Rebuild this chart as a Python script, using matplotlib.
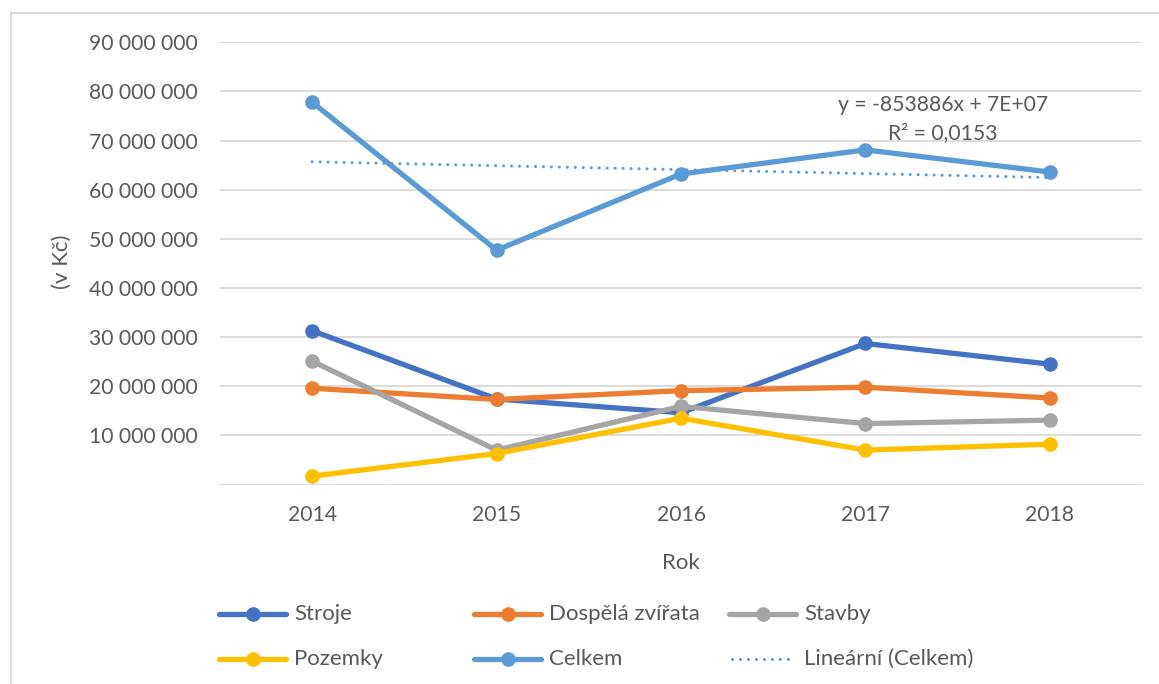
import matplotlib
matplotlib.use("Agg")
import matplotlib.pyplot as plt
from matplotlib.lines import Line2D
import numpy as np

plt.rcParams['font.family'] = ['Lato', 'DejaVu Sans']

years = ["2014", "2015", "2016", "2017", "2018"]
stroje = [31.3e6, 17.4e6, 14.6e6, 28.7e6, 24.5e6]
dospela = [19.6e6, 17.3e6, 19.1e6, 19.8e6, 17.6e6]
stavby = [25.1e6, 7.0e6, 15.9e6, 12.4e6, 13.1e6]
pozemky = [1.7e6, 6.3e6, 13.5e6, 7.0e6, 8.2e6]
celkem = [77.8e6, 47.7e6, 63.2e6, 68.1e6, 63.6e6]
series_names = ["Stroje", "Dospělá zvířata", "Stavby", "Pozemky", "Celkem"]
trend_name = "Lineární (Celkem)"
trend_eq = "y = -853886x + 7E+07"
trend_r2 = "R² = 0,0153"
y_ticks = [0, 10e6, 20e6, 30e6, 40e6, 50e6, 60e6, 70e6, 80e6, 90e6]
x_title = "Rok"
y_title = "(v Kč)"

colors = ["#4472C4", "#ED7D31", "#A5A5A5", "#FFC000", "#5B9BD5"]
text_color = "#595959"
grid_color = "#D9D9D9"

W, H = 1159, 684
fig = plt.figure(figsize=(W / 100, H / 100), dpi=100)

def fx(px):
    return px / W

def fy(py):
    return 1 - py / H

ax = fig.add_axes([fx(220), fy(484.5), fx(1142) - fx(220), fy(42.3) - fy(484.5)])

x = np.arange(len(years))
data = [stroje, dospela, stavby, pozemky, celkem]
lw = 3.8
ms = 9.5
dot_style = (0, (0.01, 2.6))
for vals, c in zip(data, colors):
    ax.plot(x, vals, color=c, lw=lw, marker='o', ms=ms, solid_capstyle='round',
            solid_joinstyle='round', zorder=3)

# linear trend of Celkem (Excel x = 1..n)
xi = np.arange(1, len(celkem) + 1)
k, q = np.polyfit(xi, celkem, 1)
ax.plot(x, k * xi + q, color=colors[4], lw=2.2, linestyle=dot_style,
        dash_capstyle='round', zorder=2)

ax.set_xlim(-0.5, len(years) - 0.5)
ax.set_ylim(0, 90e6)
ax.set_xticks(x)
ax.set_xticklabels(years)
ax.set_yticks(y_ticks)
ax.set_yticklabels(["" if v == 0 else f"{v:,.0f}".replace(",", " ") for v in y_ticks])
ax.tick_params(axis='both', length=0, labelsize=15.2, labelcolor=text_color)
ax.tick_params(axis='y', pad=16)
ax.tick_params(axis='x', pad=15)
ax.grid(axis='y', color=grid_color, lw=1.3, zorder=0)
ax.set_axisbelow(True)
for s in ax.spines.values():
    s.set_visible(False)

# trendline label
fig.text(fx(943), fy(105), trend_eq, ha='center', va='center', fontsize=15.2, color=text_color)
fig.text(fx(943), fy(133), trend_r2, ha='center', va='center', fontsize=15.2, color=text_color)

fig.text(fx(62), fy(262), y_title, rotation=90, ha='center', va='center',
         fontsize=16, color=text_color)
fig.text(fx(681), fy(563), x_title, ha='center', va='center', fontsize=16, color=text_color)

# legend (Excel-style equal columns)
col_x = [217, 472, 727]
row_y = [614, 659]
entries = list(zip(series_names, colors)) + [(trend_name, colors[4])]
for i, (name, c) in enumerate(entries):
    cx = col_x[i % 3]
    cy = row_y[i // 3]
    if name == trend_name:
        fig.add_artist(Line2D([fx(cx + 5), fx(cx + 68)], [fy(cy), fy(cy)], color=c, lw=2.2,
                              linestyle=dot_style, dash_capstyle='round'))
    else:
        fig.add_artist(Line2D([fx(cx + 2), fx(cx + 69)], [fy(cy), fy(cy)], color=c, lw=lw,
                              solid_capstyle='round'))
        fig.add_artist(Line2D([fx(cx + 35.5)], [fy(cy)], color=c, marker='o', ms=ms, lw=0))
    fig.text(fx(cx + 77), fy(cy), name, ha='left', va='center', fontsize=16, color=text_color)

# chart area border (top and left visible)
fig.add_artist(Line2D([fx(11), fx(11)], [fy(13), -0.1], color=grid_color, lw=1.3))
fig.add_artist(Line2D([fx(11), 1.1], [fy(13), fy(13)], color=grid_color, lw=1.3))

fig.savefig("out.png", dpi=100, facecolor="white")
